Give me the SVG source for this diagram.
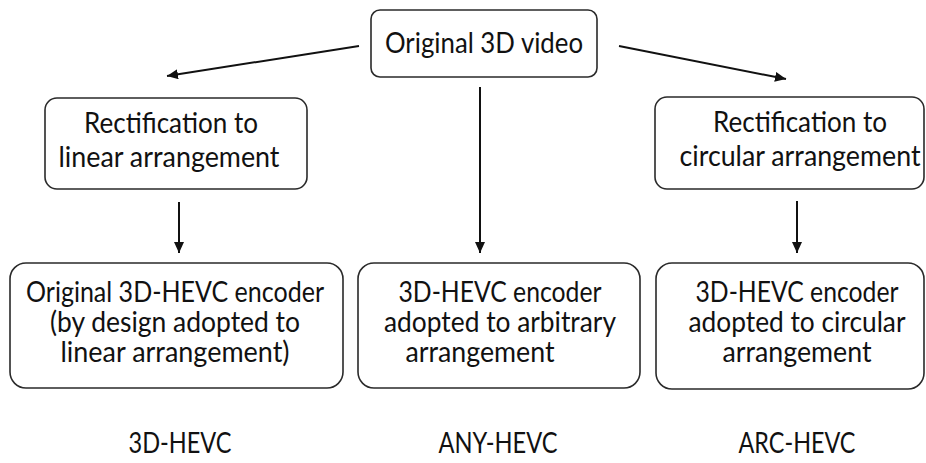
<svg xmlns="http://www.w3.org/2000/svg" width="926" height="463" viewBox="0 0 926 463">
<style>
.box{fill:#fff;stroke:#2a2a2a;stroke-width:1.6}
.t{font-family:Lato,"Liberation Sans",sans-serif;font-size:28.5px;fill:#111;text-anchor:middle}
.c{stroke:#111;stroke-width:2;fill:none;marker-end:url(#ah)}
</style>
<defs>
<marker id="ah" markerUnits="userSpaceOnUse" markerWidth="11" markerHeight="10" refX="11" refY="5" orient="auto">
<path d="M0,0 L11,5 L0,10 z" fill="#111"/>
</marker>
</defs>
<rect width="926" height="463" fill="#fff"/>
<g id="connectors">
<line class="c" x1="359" y1="46" x2="167" y2="76"/>
<line class="c" x1="619" y1="46" x2="786" y2="79"/>
<line class="c" x1="480" y1="87" x2="480" y2="253"/>
<line class="c" x1="179" y1="202" x2="179" y2="253"/>
<line class="c" x1="797" y1="201" x2="797" y2="253"/>
</g>
<g id="n-original">
<rect class="box" x="371" y="10" width="226" height="67" rx="9"/>
<text class="t" x="484" y="53" textLength="198" lengthAdjust="spacingAndGlyphs">Original 3D video</text>
</g>
<g id="n-rect-linear">
<rect class="box" x="45" y="98" width="262" height="91" rx="12"/>
<text class="t" x="171" y="133" textLength="174" lengthAdjust="spacingAndGlyphs">Rectification to</text>
<text class="t" x="169" y="167" textLength="221" lengthAdjust="spacingAndGlyphs">linear arrangement</text>
</g>
<g id="n-rect-circular">
<rect class="box" x="655" y="97" width="269" height="92" rx="12"/>
<text class="t" x="800" y="132" textLength="174" lengthAdjust="spacingAndGlyphs">Rectification to</text>
<text class="t" x="800" y="166" textLength="241" lengthAdjust="spacingAndGlyphs">circular arrangement</text>
</g>
<g id="n-enc-3d">
<rect class="box" x="10" y="263" width="333" height="125" rx="16"/>
<text class="t" x="175" y="302" textLength="298" lengthAdjust="spacingAndGlyphs">Original 3D-HEVC encoder</text>
<text class="t" x="175" y="332" textLength="250" lengthAdjust="spacingAndGlyphs">(by design adopted to</text>
<text class="t" x="175" y="362" textLength="229" lengthAdjust="spacingAndGlyphs">linear arrangement)</text>
</g>
<g id="n-enc-any">
<rect class="box" x="358" y="263" width="282" height="125" rx="16"/>
<text class="t" x="500" y="302" textLength="203" lengthAdjust="spacingAndGlyphs">3D-HEVC encoder</text>
<text class="t" x="500" y="332" textLength="232" lengthAdjust="spacingAndGlyphs">adopted to arbitrary</text>
<text class="t" x="480" y="362" textLength="149" lengthAdjust="spacingAndGlyphs">arrangement</text>
</g>
<g id="n-enc-arc">
<rect class="box" x="656" y="263" width="268" height="126" rx="16"/>
<text class="t" x="797" y="302" textLength="203" lengthAdjust="spacingAndGlyphs">3D-HEVC encoder</text>
<text class="t" x="797" y="332" textLength="217" lengthAdjust="spacingAndGlyphs">adopted to circular</text>
<text class="t" x="797" y="362" textLength="149" lengthAdjust="spacingAndGlyphs">arrangement</text>
</g>
<g id="labels">
<text class="t" x="180" y="453" textLength="103" lengthAdjust="spacingAndGlyphs">3D-HEVC</text>
<text class="t" x="498" y="453" textLength="119" lengthAdjust="spacingAndGlyphs">ANY-HEVC</text>
<text class="t" x="797" y="453" textLength="117" lengthAdjust="spacingAndGlyphs">ARC-HEVC</text>
</g>
</svg>
